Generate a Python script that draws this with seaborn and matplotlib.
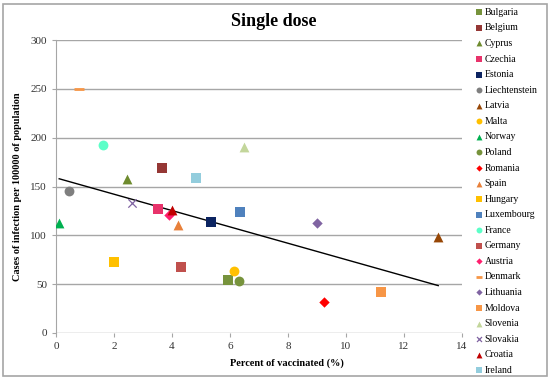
import numpy as np
import pandas as pd
import seaborn as sns
import matplotlib.pyplot as plt
from matplotlib.patches import Rectangle

countries = ['Bulgaria', 'Belgium', 'Cyprus', 'Czechia', 'Estonia', 'Liechtenstein',
             'Latvia', 'Malta', 'Norway', 'Poland', 'Romania', 'Spain', 'Hungary',
             'Luxembourg', 'France', 'Germany', 'Austria', 'Denmark', 'Lithuania',
             'Moldova', 'Slovenia', 'Slovakia', 'Croatia', 'Ireland']
vaccinated = [5.94, 3.67, 2.46, 3.50, 5.34, 0.46,
              13.18, 6.15, 0.11, 6.30, 9.25, 4.20, 2.01,
              6.33, 1.61, 4.32, 3.88, 0.80, 8.99,
              11.20, 6.49, 2.62, 4.01, 4.84]
cases = [53.8, 169.3, 157.8, 127.4, 114.1, 145.5,
         98.2, 63.7, 113.0, 52.8, 31.3, 110.7, 72.9,
         124.0, 192.2, 67.5, 121.0, 249.5, 113.0,
         41.5, 190.2, 133.5, 126.0, 158.5]
colors = ['#77933C', '#953735', '#6E8B2E', '#E8336B', '#0C2461', '#7F7F7F',
          '#974706', '#FFC000', '#00B050', '#77933C', '#FF0000', '#E8803A', '#FFC000',
          '#4F81BD', '#5CFFC8', '#C0504D', '#FF1F6E', '#F79646', '#8064A2',
          '#F79646', '#C3D69B', '#8064A2', '#C00000', '#93CDDD']
shapes = ['s', 's', '^', 's', 's', 'o',
          '^', 'o', '^', 'o', 'D', '^', 's',
          's', 'o', 's', 'D', '_', 'D',
          's', '^', 'x', '^', 's']

df = pd.DataFrame({'Country': countries, 'Vaccinated': vaccinated, 'Cases': cases,
                   'Color': colors, 'Marker': shapes})

plt.rcParams['font.family'] = ['Liberation Serif', 'DejaVu Serif']

fig = plt.figure(figsize=(5.5, 3.8), dpi=100)
ax = fig.add_axes([56 / 550, 1 - 333 / 380, (462 - 56) / 550, (333 - 40) / 380])

sns.regplot(data=df, x='Vaccinated', y='Cases', scatter=False, ci=None,
            color='black', line_kws={'linewidth': 1}, ax=ax)

# one call per country so filled and line markers can be mixed
for _, row in df.iterrows():
    m = row['Marker']
    size = {'D': 28, 'x': 36, '_': 50}.get(m, 50)
    lw = {'x': 0.9, '_': 2.0}.get(m, 0)
    sns.scatterplot(x=[row['Vaccinated']], y=[row['Cases']], color=row['Color'],
                    marker=m, s=size, linewidth=lw, label=row['Country'],
                    ax=ax, zorder=3)

ax.set_xlim(0, 14)
ax.set_ylim(0, 300)
ax.set_xticks(range(0, 15, 2))
ax.set_yticks(range(0, 301, 50))
ax.yaxis.grid(True, color='#A6A6A6', linewidth=1)
ax.set_axisbelow(True)
for side in ['top', 'right', 'bottom']:
    ax.spines[side].set_visible(False)
ax.spines['left'].set_color('#A6A6A6')
ax.tick_params(axis='both', labelsize=8, colors='#A6A6A6', labelcolor='#333333', length=3)
ax.set_xlabel('Percent of vaccinated (%)', fontsize=7.4, fontweight='bold')
ax.xaxis.set_label_coords((287 - 56) / 406, -(358 - 333) / 293)
ax.set_ylabel('Cases of infection per 100000 of population', fontsize=7.4, fontweight='bold', labelpad=6)
fig.text(274 / 550, 1 - 22 / 380, 'Single dose', ha='center', va='center', fontsize=13, fontweight='bold')

handles, labels = ax.get_legend_handles_labels()
ax.legend(handles, labels, loc='upper left', bbox_to_anchor=(470 / 550, 1 - 4 / 380),
          bbox_transform=fig.transFigure, frameon=False, fontsize=7,
          handletextpad=0.1, handlelength=1.0, labelspacing=0.675, markerscale=0.6,
          borderaxespad=0)

fig.patches.append(Rectangle((3 / 550, 4 / 380), 544 / 550, 372 / 380, transform=fig.transFigure,
                             fill=False, edgecolor='#A6A6A6', linewidth=1.2))

fig.savefig('out.png', dpi=100)
